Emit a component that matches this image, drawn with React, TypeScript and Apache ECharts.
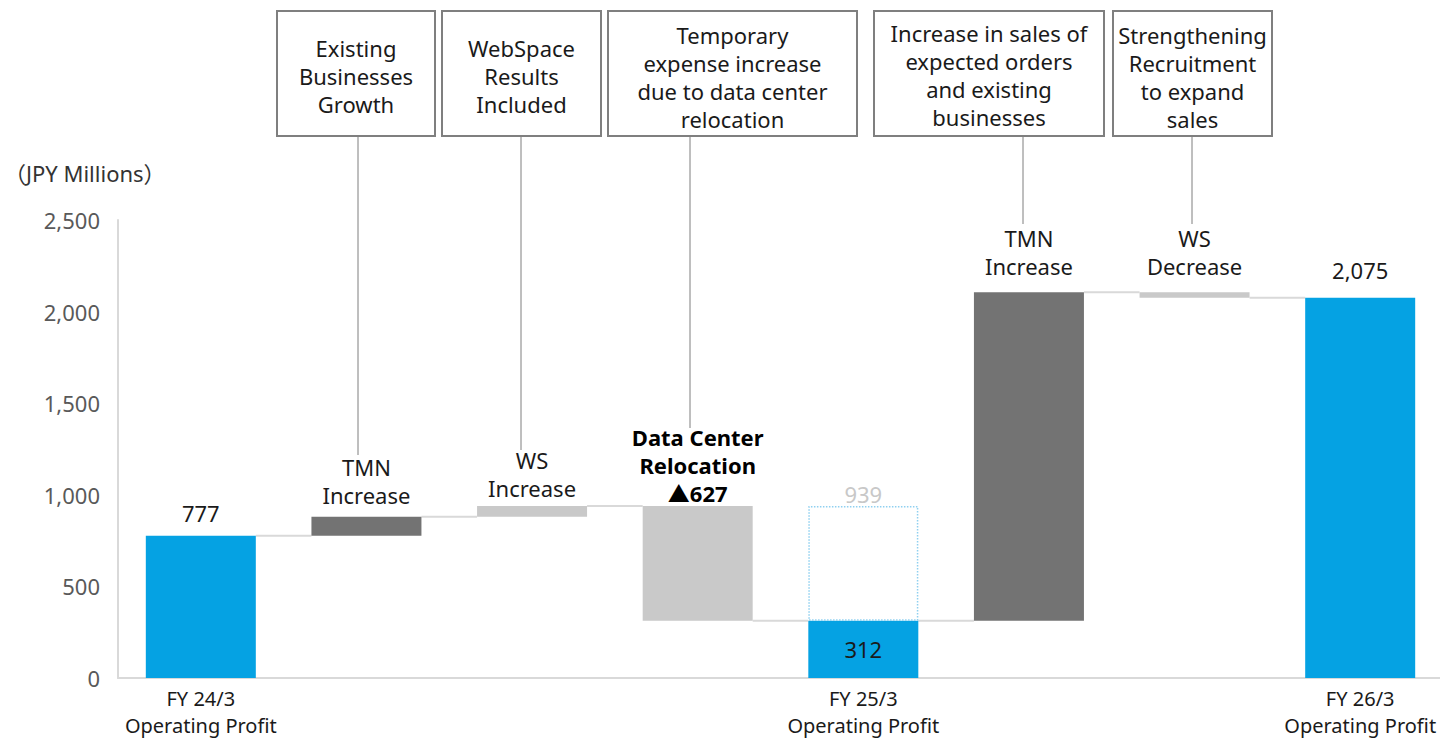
import React, { useEffect, useRef } from "react";
import * as echarts from "echarts";

// ---- data ----
const kinds = ["total", "delta", "delta", "delta", "total", "delta", "delta", "total"];
const values = [777, 103, 59, -627, 312, 1793, -30, 2075];
const axisLabels = [
  "FY 24/3\nOperating Profit",
  "",
  "",
  "",
  "FY 25/3\nOperating Profit",
  "",
  "",
  "FY 26/3\nOperating Profit",
];
const barTitles = ["", "TMN\nIncrease", "WS\nIncrease", "Data Center\nRelocation", "", "TMN\nIncrease", "WS\nDecrease", ""];
const ghostValues = [null, null, null, null, 939, null, null, null];
const yTicks = [0, 500, 1000, 1500, 2000, 2500];
const callouts = [
  { text: "Existing\nBusinesses\nGrowth" },
  { text: "WebSpace\nResults\nIncluded" },
  { text: "Temporary\nexpense increase\ndue to data center\nrelocation" },
  { text: "Increase in sales of\nexpected orders\nand existing\nbusinesses" },
  { text: "Strengthening\nRecruitment\nto expand\nsales" },
];

const BLUE = "#05A2E3";
const DARK = "#737373";
const LIGHT = "#C9C9C9";
const FONT = '"Noto Sans", "Noto Sans CJK JP", sans-serif';

const fmt = (v: number) => v.toLocaleString("en-US");

export default function App() {
  const ref = useRef<HTMLDivElement>(null);

  useEffect(() => {
    if (!ref.current) return;
    const chart = echarts.init(ref.current, undefined, { renderer: "svg" });

    // build waterfall
    let running = 0;
    const bases: number[] = [];
    const heights: number[] = [];
    const levels: number[] = [];
    values.forEach((v, i) => {
      if (kinds[i] === "total") {
        bases.push(0);
        heights.push(v);
        running = v;
      } else {
        bases.push(Math.min(running, running + v));
        heights.push(Math.abs(v));
        running += v;
      }
      levels.push(running);
    });
    const colors = kinds.map((k, i) => (k === "total" ? BLUE : values[i] > 0 && i !== 2 ? DARK : LIGHT));

    const distances = [9, 8, 4, -1, 0, 12, 12, 14];
    const visibleData = heights.map((h, i) => {
      const isTotal = kinds[i] === "total";
      let text = isTotal ? fmt(values[i]) : barTitles[i];
      const bold = i === 3;
      if (bold) text = text + "\n▲" + fmt(Math.abs(values[i]));
      const inside = i === 4;
      return {
        value: h,
        itemStyle: { color: colors[i] },
        label: {
          show: true,
          position: inside ? "inside" : "top",
          distance: distances[i],
          formatter: text,
          fontWeight: bold ? "bold" : "normal",
          color: bold ? "#000" : "#1a1a1a",
        },
      };
    });

    const connectors = levels.slice(0, levels.length - 1).map((lv, i) => [i, lv]);

    const boxes = [
      { x: 277, w: 158, cy: 76, lx: 358, ly: 455 },
      { x: 442, w: 159, cy: 76, lx: 521, ly: 450 },
      { x: 608, w: 249, cy: 77, lx: 690, ly: 428 },
      { x: 874, w: 230, cy: 75, lx: 1023, ly: 224 },
      { x: 1113, w: 159, cy: 77, lx: 1192, ly: 224 },
    ];
    const graphics: any[] = [];
    boxes.forEach((b, i) => {
      graphics.push({
        type: "line",
        shape: { x1: b.lx, y1: 136, x2: b.lx, y2: b.ly },
        style: { stroke: "#7f7f7f", lineWidth: 1 },
        z: 10,
      });
      graphics.push({
        type: "rect",
        shape: { x: b.x, y: 11, width: b.w, height: 125 },
        style: { fill: "#fff", stroke: "#7f7f7f", lineWidth: 2 },
        z: 10,
      });
      graphics.push({
        type: "text",
        x: b.x + b.w / 2,
        y: b.cy,
        style: {
          text: callouts[i].text,
          fontSize: 22,
          fontFamily: FONT,
          lineHeight: 28,
          fill: "#1a1a1a",
          align: "center",
          verticalAlign: "middle",
        },
        z: 11,
      });
    });
    graphics.push({
      type: "text",
      x: 4,
      y: 173,
      style: {
        text: "（JPY Millions）",
        fontSize: 22,
        fontFamily: FONT,
        fill: "#333",
        align: "left",
        verticalAlign: "middle",
      },
    });

    chart.setOption({
      animation: false,
      textStyle: { fontFamily: FONT },
      grid: { left: 118, top: 220, width: 1325, bottom: 58, containLabel: false },
      xAxis: {
        type: "category",
        data: axisLabels.map((_, i) => String(i)),
        axisTick: { show: false },
        axisLine: { lineStyle: { color: "#d9d9d9", width: 2 } },
        axisLabel: {
          interval: 0,
          formatter: (_: string, i: number) => axisLabels[i],
          fontSize: 20,
          lineHeight: 27,
          color: "#1a1a1a",
          margin: 7,
        },
      },
      yAxis: {
        type: "value",
        min: yTicks[0],
        max: yTicks[yTicks.length - 1],
        interval: yTicks[1] - yTicks[0],
        axisLine: { show: true, lineStyle: { color: "#d9d9d9", width: 2 } },
        axisTick: { show: false },
        splitLine: { show: false },
        axisLabel: {
          formatter: (v: number) => fmt(v),
          fontSize: 22,
          color: "#595959",
          margin: 18,
        },
      },
      series: [
        {
          type: "bar",
          stack: "wf",
          barWidth: 110,
          data: bases,
          itemStyle: { color: "transparent" },
          emphasis: { disabled: true },
          silent: true,
        },
        {
          type: "bar",
          stack: "wf",
          barWidth: 110,
          data: visibleData,
          label: { fontSize: 22, lineHeight: 28, fontFamily: FONT },
        },
        {
          type: "bar",
          stack: "wf",
          barWidth: 112,
          data: ghostValues.map((v, i) => (v == null ? null : v - levels[i])),
          itemStyle: {
            color: "rgba(255,255,255,0)",
            borderColor: "#8FD0F0",
            borderWidth: 1.5,
            borderType: "dotted",
          },
          label: {
            show: true,
            position: "top",
            distance: -2,
            fontSize: 22,
            lineHeight: 28,
            color: "#C8C8C8",
            formatter: (p: any) => fmt(ghostValues[p.dataIndex] as number),
          },
        },
        {
          type: "custom",
          data: connectors,
          z: 1,
          renderItem: (params: any, api: any) => {
            const p0 = api.coord([api.value(0), api.value(1)]);
            const p1 = api.coord([api.value(0) + 1, api.value(1)]);
            return {
              type: "line",
              shape: { x1: p0[0] + 55, y1: p0[1], x2: p1[0] - 55, y2: p1[1] },
              style: { stroke: "#d9d9d9", lineWidth: 2 },
            };
          },
        },
      ],
      graphic: graphics,
    });

    return () => chart.dispose();
  }, []);

  return (
    <div
      style={{ position: "absolute", left: 0, top: 0, width: 1440, height: 739, overflow: "hidden", background: "#fff" }}
    >
      <div ref={ref} style={{ width: 1450, height: 739 }} />
    </div>
  );
}
